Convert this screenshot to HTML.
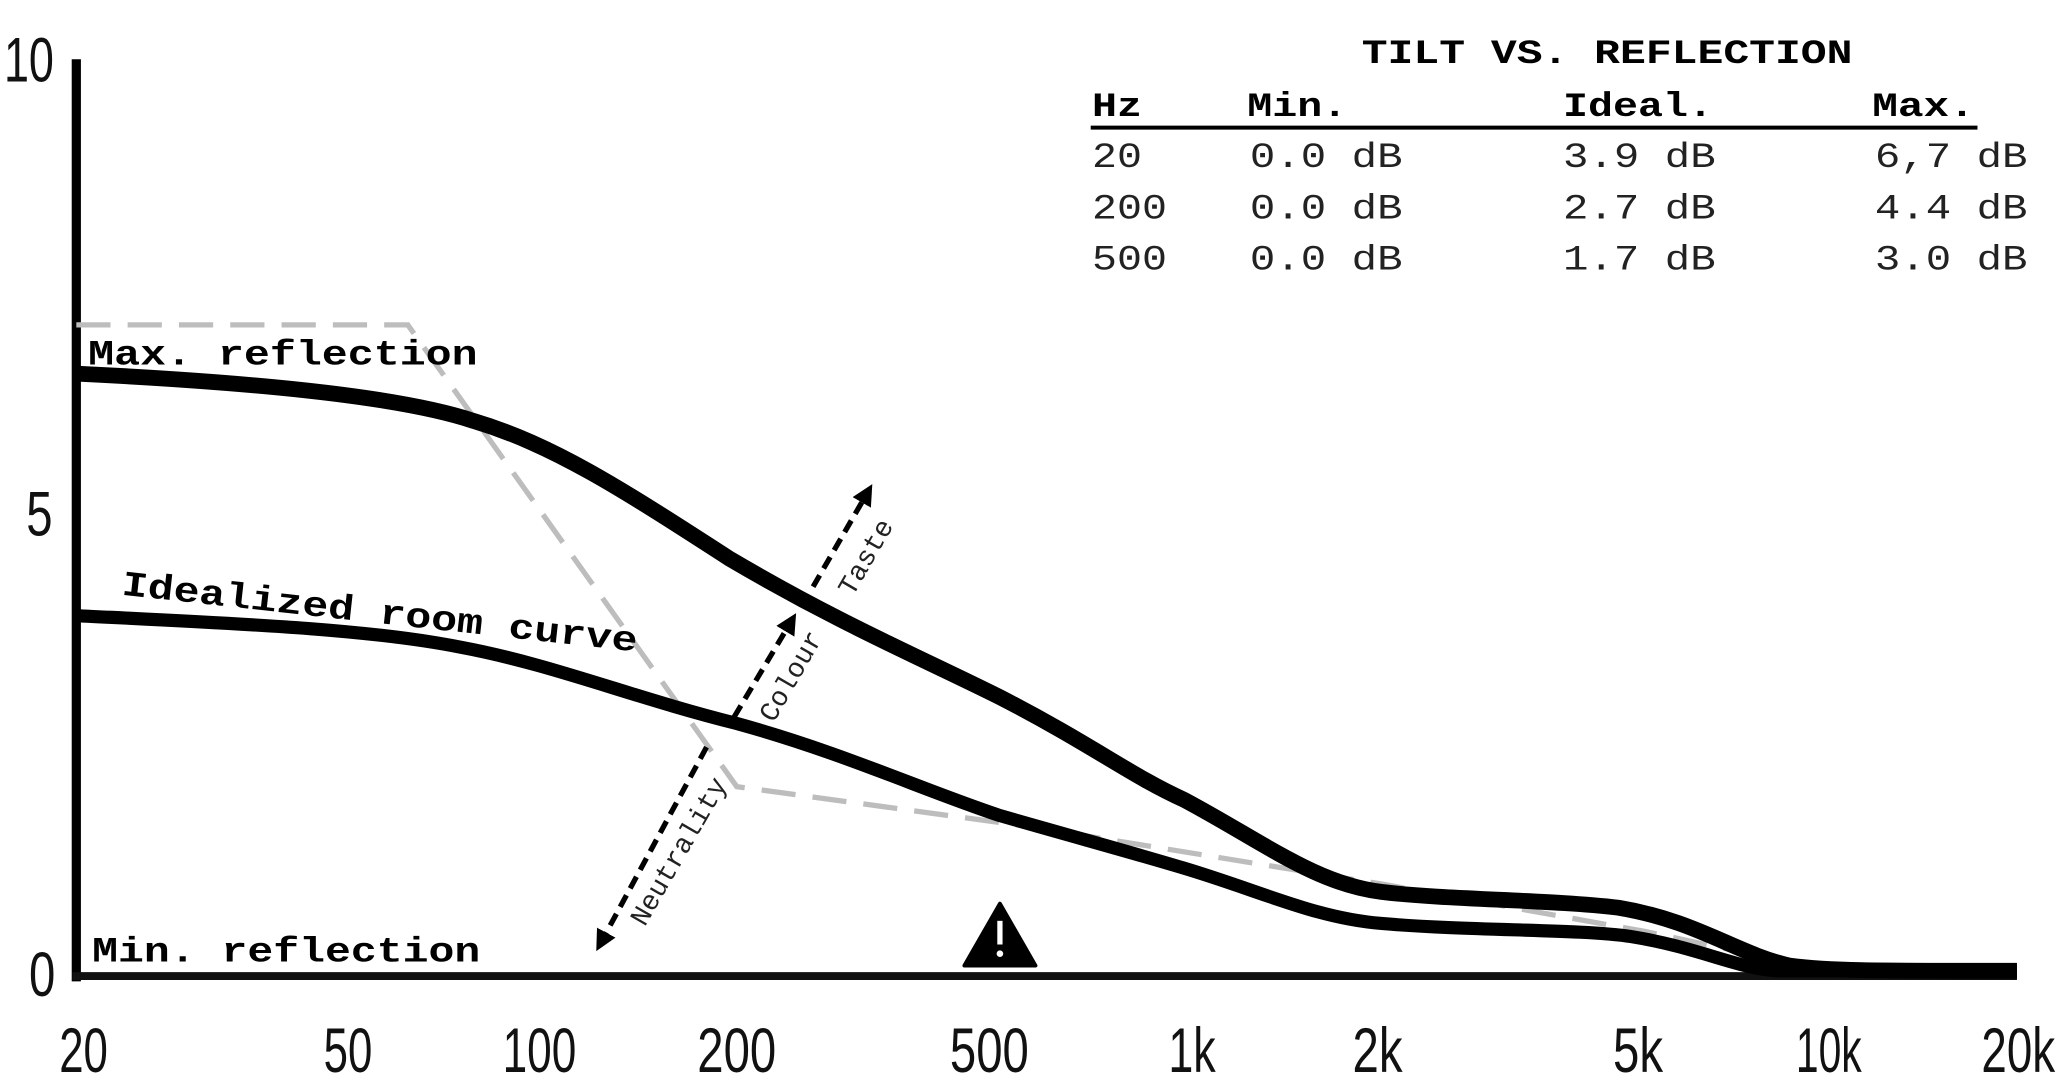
<!DOCTYPE html>
<html><head><meta charset="utf-8"><style>html,body{margin:0;padding:0;background:#fff;}svg{display:block}</style></head>
<body>
<svg width="2063" height="1080" viewBox="0 0 1568 821" preserveAspectRatio="none" xmlns="http://www.w3.org/2000/svg">
<defs>
<marker id="ah" viewBox="0 0 10 10" refX="5" refY="5" markerWidth="4" markerHeight="4" orient="auto-start-reverse"><path d="M0,0 L10,5 L0,10 z" fill="#000"/></marker>
</defs>
<rect width="1568" height="821" fill="#fff"/>
<line x1="58" y1="45" x2="58" y2="746" stroke="#000" stroke-width="7"/>
<line x1="55" y1="742" x2="1533" y2="742" stroke="#111" stroke-width="6"/>
<g font-family="'Liberation Sans Narrow','Liberation Sans',sans-serif" font-size="48" fill="#111" lengthAdjust="spacingAndGlyphs">
<text x="3" y="62" textLength="38" lengthAdjust="spacingAndGlyphs">10</text>
<text x="20" y="407" textLength="20" lengthAdjust="spacingAndGlyphs">5</text>
<text x="22" y="757" textLength="20" lengthAdjust="spacingAndGlyphs">0</text>
<text x="45" y="815" textLength="37" lengthAdjust="spacingAndGlyphs">20</text>
<text x="246" y="815" textLength="37" lengthAdjust="spacingAndGlyphs">50</text>
<text x="382" y="815" textLength="56" lengthAdjust="spacingAndGlyphs">100</text>
<text x="530" y="815" textLength="60" lengthAdjust="spacingAndGlyphs">200</text>
<text x="722" y="815" textLength="60" lengthAdjust="spacingAndGlyphs">500</text>
<text x="888" y="815" textLength="36" lengthAdjust="spacingAndGlyphs">1k</text>
<text x="1028" y="815" textLength="38" lengthAdjust="spacingAndGlyphs">2k</text>
<text x="1226" y="815" textLength="38" lengthAdjust="spacingAndGlyphs">5k</text>
<text x="1365" y="815" textLength="50" lengthAdjust="spacingAndGlyphs">10k</text>
<text x="1506" y="815" textLength="56" lengthAdjust="spacingAndGlyphs">20k</text>
</g>
<polyline points="58,247 310,247 560,598 780,628 1050,672 1250,708 1390,738" fill="none" stroke="#bdbdbd" stroke-width="4" stroke-dasharray="26 13"/>
<path d="M58,284 C180,290 300,300 360,320 C420,338 470,370 555,425 C640,475 700,500 760,530 C830,566 860,590 900,608 C960,640 1000,672 1050,678 C1100,684 1180,684 1230,690 C1290,700 1320,725 1360,734 C1390,738 1420,738 1533,738" fill="none" stroke="#000" stroke-width="12"/>
<path d="M58,468 C180,474 280,478 350,492 C420,505 480,530 560,550 C640,572 700,600 760,620 C830,640 860,648 900,660 C960,678 1000,698 1050,702 C1120,708 1200,706 1240,712 C1290,720 1320,736 1350,738 L1533,738" fill="none" stroke="#000" stroke-width="10"/>
<g stroke="#000" stroke-width="4" stroke-dasharray="10 6" fill="none">
<line x1="537" y1="568" x2="457" y2="716" marker-end="url(#ah)"/>
<line x1="558" y1="545" x2="601" y2="473" marker-end="url(#ah)"/>
<line x1="618" y1="446" x2="659" y2="375" marker-end="url(#ah)"/>
</g>
<g font-family="'Liberation Mono',monospace" font-size="21" fill="#222">
<text transform="translate(490,705) rotate(-60)">Neutrality</text>
<text transform="translate(588,550) rotate(-60)">Colour</text>
<text transform="translate(648,454) rotate(-60)">Taste</text>
</g>
<path d="M760,687 L787,734 L733,734 Z" fill="#000" stroke="#000" stroke-width="3" stroke-linejoin="round"/>
<rect x="758" y="700" width="4" height="18" fill="#fff"/><circle cx="760" cy="725" r="2.5" fill="#fff"/>
<g font-family="'Liberation Mono',monospace" font-weight="bold" font-size="27" fill="#000">
<text x="67" y="277" textLength="296" lengthAdjust="spacingAndGlyphs">Max. reflection</text>
<text x="70" y="731" textLength="295" lengthAdjust="spacingAndGlyphs">Min. reflection</text>
<text transform="translate(92,452) rotate(6.3)" textLength="394" lengthAdjust="spacingAndGlyphs">Idealized room curve</text>
<text x="1035" y="48" textLength="373" lengthAdjust="spacingAndGlyphs" font-size="26">TILT VS. REFLECTION</text>
<text x="830" y="88" font-size="26" textLength="38" lengthAdjust="spacingAndGlyphs">Hz</text>
<text x="948" y="88" font-size="26" textLength="76" lengthAdjust="spacingAndGlyphs">Min.</text>
<text x="1188" y="88" font-size="26" textLength="114" lengthAdjust="spacingAndGlyphs">Ideal.</text>
<text x="1423" y="88" font-size="26" textLength="78" lengthAdjust="spacingAndGlyphs">Max.</text>
</g>
<line x1="829" y1="97" x2="1503" y2="97" stroke="#000" stroke-width="3"/>
<g font-family="'Liberation Mono',monospace" font-size="27" fill="#222">
<text x="830" y="127" textLength="38" lengthAdjust="spacingAndGlyphs">20</text>
<text x="830" y="166" textLength="57" lengthAdjust="spacingAndGlyphs">200</text>
<text x="830" y="205" textLength="57" lengthAdjust="spacingAndGlyphs">500</text>
<text x="950" y="127" textLength="116" lengthAdjust="spacingAndGlyphs">0.0 dB</text>
<text x="950" y="166" textLength="116" lengthAdjust="spacingAndGlyphs">0.0 dB</text>
<text x="950" y="205" textLength="116" lengthAdjust="spacingAndGlyphs">0.0 dB</text>
<text x="1188" y="127" textLength="116" lengthAdjust="spacingAndGlyphs">3.9 dB</text>
<text x="1188" y="166" textLength="116" lengthAdjust="spacingAndGlyphs">2.7 dB</text>
<text x="1188" y="205" textLength="116" lengthAdjust="spacingAndGlyphs">1.7 dB</text>
<text x="1425" y="127" textLength="116" lengthAdjust="spacingAndGlyphs">6,7 dB</text>
<text x="1425" y="166" textLength="116" lengthAdjust="spacingAndGlyphs">4.4 dB</text>
<text x="1425" y="205" textLength="116" lengthAdjust="spacingAndGlyphs">3.0 dB</text>
</g>
</svg>
</body></html>
